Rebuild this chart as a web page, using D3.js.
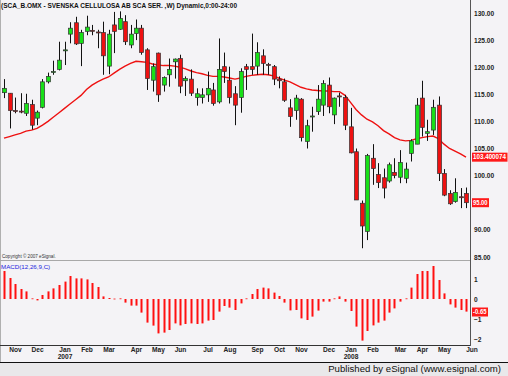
<!DOCTYPE html>
<html><head><meta charset="utf-8">
<script src="https://cdn.jsdelivr.net/npm/d3@7"></script>
<style>html,body{margin:0;padding:0;background:#f4f3f6;}svg{display:block;}</style>
</head><body>
<svg id="c" width="508" height="376"></svg>
<script>
const openP  = [115.3,115.2,112.0,111.9,111.5,113.1,110.6,112.6,117.3,119.1,119.6,123.1,126.1,128.2,124.4,126.6,126.8,126.5,126.4,120.2,127.8,127.0,128.4,124.1,126.2,127.2,123.2,117.6,122.6,116.7,118.6,121.0,121.6,117.5,117.8,114.4,114.4,114.9,115.8,113.6,120.1,117.6,115.1,114.4,120.1,120.1,120.2,122.1,120.5,120.1,117.8,117.3,112.5,112.0,114.1,106.3,111.0,111.8,113.0,116.7,111.2,114.7,114.4,109.0,104.4,94.9,89.7,103.2,100.2,99.6,99.0,100.6,99.7,99.5,104.1,105.8,114.3,107.8,108.4,113.0,100.4,96.7,95.2,96.1,96.7];
const highP  = [117.8,115.2,114.4,115.2,115.1,114.0,112.0,117.8,119.0,121.2,124.7,124.7,128.3,129.3,126.9,129.5,127.8,126.9,128.4,126.9,130.2,130.3,129.6,127.8,128.8,127.8,123.5,120.7,122.7,118.3,121.6,121.6,122.3,118.3,119.6,116.1,116.1,119.2,117.1,125.3,122.7,120.1,116.5,119.8,120.6,126.2,124.6,123.3,120.8,120.4,118.3,117.9,114.1,114.9,114.3,110.3,112.7,116.7,117.6,118.1,114.4,115.3,114.9,112.5,105.0,95.4,104.0,105.8,102.3,101.3,102.4,103.2,104.7,102.4,106.7,114.3,117.5,110.3,114.0,114.6,101.2,97.3,99.5,97.7,97.8];
const lowP   = [114.3,108.7,111.5,111.5,111.0,108.5,109.3,112.4,117.0,118.6,119.4,120.4,124.4,124.1,120.2,125.9,125.9,123.5,118.6,118.7,122.6,126.9,124.1,123.5,125.0,122.3,115.8,115.5,113.6,115.5,116.4,117.9,115.2,114.7,114.7,112.9,113.3,113.6,112.9,113.3,117.1,113.3,109.3,111.6,115.8,118.6,118.6,118.6,118.6,116.7,116.1,113.6,109.0,110.3,106.3,105.0,108.1,111.2,111.0,111.5,109.5,112.7,108.4,104.1,95.5,86.6,88.1,98.3,97.7,95.8,98.7,99.5,98.6,98.6,102.6,105.8,107.2,106.4,107.5,99.0,96.2,94.6,95.0,94.0,94.0];
const closeP = [116.1,112.0,111.9,111.8,113.3,109.3,111.7,117.3,118.3,119.2,121.3,123.2,127.2,124.3,126.4,127.4,126.7,126.4,122.1,126.1,126.6,129.0,124.7,126.1,127.2,122.7,117.9,120.1,114.9,118.1,119.6,121.5,116.5,117.9,115.2,115.1,114.9,116.1,113.3,119.6,119.2,114.4,113.0,119.2,119.6,119.6,122.7,120.7,120.4,117.8,117.5,113.9,110.9,114.3,107.0,109.2,111.0,114.1,117.0,112.7,114.3,114.6,109.3,104.2,95.5,90.7,103.7,101.3,98.7,97.7,102.0,100.0,102.4,101.2,106.4,113.0,108.9,108.1,112.6,100.4,96.4,94.8,96.9,96.0,95.0];
const maP    = [106.9,107.2,107.5,107.8,108.2,108.4,108.7,109.3,110.0,110.8,111.6,112.4,113.2,114.0,114.8,115.9,116.7,117.3,117.8,118.2,118.9,119.6,120.2,120.7,121.1,121.0,120.9,120.6,120.4,120.3,120.3,120.2,120.0,119.7,119.3,119.0,118.8,118.5,118.3,118.3,118.2,118.0,117.8,118.0,118.3,118.5,118.6,118.7,118.6,118.4,118.0,117.6,117.3,116.8,116.3,116.0,115.8,115.7,115.6,115.6,115.5,115.5,114.8,113.5,112.2,111.2,110.4,109.9,109.2,108.3,107.7,107.0,106.6,106.4,106.5,106.8,107.0,107.2,107.3,106.8,105.8,105.0,104.5,104.0,103.4];
const macdH  = [1.40,1.05,0.75,0.50,0.38,0.03,-0.07,0.20,0.38,0.53,0.70,0.87,1.15,1.03,1.03,0.98,0.80,0.60,0.13,0.05,0.02,0.03,-0.18,-0.33,-0.33,-0.68,-1.18,-1.33,-1.72,-1.68,-1.55,-1.22,-1.32,-1.25,-1.22,-1.25,-1.22,-1.08,-1.05,-0.63,-0.35,-0.43,-0.55,-0.22,0.03,0.25,0.50,0.57,0.53,0.32,0.15,-0.18,-0.57,-0.55,-0.97,-1.05,-0.88,-0.58,-0.13,-0.13,0.03,0.13,-0.13,-0.60,-1.38,-2.08,-1.60,-1.32,-1.18,-1.08,-0.68,-0.47,-0.13,0.03,0.57,1.25,1.40,1.40,1.65,0.95,0.28,-0.27,-0.43,-0.55,-0.63];
const monthLabels = ["Nov","Dec","Jan","Feb","Mar","Apr","May","Jun","Jul","Aug","Sep","Oct","Nov","Dec","Jan","Feb","Mar","Apr","May","Jun"];
const monthIdx    = [2,6,11,15,19,24,28,32,37,41,46,50,54,59,63,67,72,76,80,85];
const yearLabels  = ["2007","2008"];
const yearIdx     = [11,63];
const priceTicks  = [85,90,100,105,110,115,120,125,130];
const macdTicks   = [-2,-1,0,1];
const titleText = "(SCA_B.OMX - SVENSKA CELLULOSA AB SCA SER. ,W) Dynamic,0:00-24:00";
const lastMA = "103.400074", lastClose = "95.00", lastMacd = "-0.65";

const svg = d3.select("#c");
const W = 508, H = 376;
const GREEN = "#18e018", RED = "#ee1111";
const FONT = "Liberation Sans, Arial, sans-serif";
svg.append("rect").attr("width", W).attr("height", H).attr("fill", "#f4f3f6");

const x = d3.scaleLinear().domain([0, 84]).range([4, 466]);
const y = d3.scaleLinear().domain([85, 130]).range([256.9, 13]);
const ym = d3.scaleLinear().domain([-2, 1]).range([339, 279]);

// frame lines
svg.append("line").attr("x1",0.5).attr("x2",0.5).attr("y1",0).attr("y2",362).attr("stroke","#b0b0b0");
svg.append("line").attr("x1",0).attr("x2",471).attr("y1",260.5).attr("y2",260.5).attr("stroke","#a8a8a8");
svg.append("line").attr("x1",0).attr("x2",471).attr("y1",345.5).attr("y2",345.5).attr("stroke","#333");
svg.append("line").attr("x1",470.5).attr("x2",470.5).attr("y1",0).attr("y2",346).attr("stroke","#555");
svg.append("rect").attr("x",0).attr("y",362).attr("width",W).attr("height",H-362).attr("fill","#e9e8ea");
svg.append("line").attr("x1",0).attr("x2",W).attr("y1",362.5).attr("y2",362.5).attr("stroke","#111");

// title
svg.append("text").attr("x",1).attr("y",7.5).attr("font-family",FONT)
  .attr("font-size","6.6px").attr("font-weight","bold").attr("fill","#111")
  .attr("textLength",236).attr("lengthAdjust","spacingAndGlyphs").text(titleText);

// MA line
const idx = d3.range(closeP.length);
svg.append("path").datum(idx).attr("fill","none").attr("stroke",RED).attr("stroke-width",1.4)
  .attr("d", d3.line().x(i => x(i)).y(i => y(maP[i])));

// candles
const cg = svg.append("g");
idx.forEach(i => {
  const cx = Math.round(x(i)) + 0.5;
  cg.append("line").attr("x1",cx).attr("x2",cx).attr("y1",y(highP[i])).attr("y2",y(lowP[i]))
    .attr("stroke","#111").attr("stroke-width",1);
  const up = closeP[i] >= openP[i];
  const top = y(Math.max(openP[i], closeP[i])), bot = y(Math.min(openP[i], closeP[i]));
  const h = Math.max(1, bot - top);
  cg.append("rect").attr("x",cx-2).attr("y",top).attr("width",4).attr("height",h)
    .attr("fill", up ? GREEN : RED).attr("stroke","#333").attr("stroke-width",0.7);
});

// copyright
svg.append("text").attr("x",2).attr("y",258).attr("font-family",FONT)
  .attr("font-size","4.6px").attr("fill","#333").text("Copyright © 2007 eSignal.");

// price axis
const pAxis = svg.append("g").attr("transform","translate(473,0)")
  .call(d3.axisRight(y).tickValues(priceTicks).tickSize(0).tickPadding(1).tickFormat(d3.format(".2f")));
pAxis.select(".domain").remove();
pAxis.selectAll("text").attr("font-family",FONT).attr("font-size","6.6px")
  .attr("font-weight","bold").attr("fill","#222");

function redTag(val, label, w) {
  const g = svg.append("g");
  g.append("rect").attr("x",472).attr("y",val-4.5).attr("width",w).attr("height",9).attr("fill","#ff1a1a");
  g.append("text").attr("x",473).attr("y",val).attr("dy","0.35em").attr("font-family",FONT)
    .attr("font-size","6.4px").attr("font-weight","bold").attr("fill","#fff")
    .attr("textLength", w - 2.5).attr("lengthAdjust","spacingAndGlyphs").text(label);
}
redTag(y(+lastMA), lastMA, 35.5);
redTag(y(+lastClose), lastClose, 17);

// MACD panel
svg.append("text").attr("x",1).attr("y",268.5).attr("font-family",FONT)
  .attr("font-size","6.2px").attr("fill","#2222dd").text("MACD(12,26,9,C)");
svg.append("g").selectAll("rect").data(idx).join("rect")
  .attr("x", i => Math.round(x(i)) - 0.5).attr("width", 2)
  .attr("y", i => Math.min(ym(0), ym(macdH[i])))
  .attr("height", i => Math.max(0.8, Math.abs(ym(macdH[i]) - ym(0))))
  .attr("fill", "#ff1010");
const mAxis = svg.append("g").attr("transform","translate(473,0)")
  .call(d3.axisRight(ym).tickValues(macdTicks).tickSize(0).tickPadding(1).tickFormat(d3.format("d")));
mAxis.select(".domain").remove();
mAxis.selectAll("text").attr("font-family",FONT).attr("font-size","6.6px")
  .attr("font-weight","bold").attr("fill","#222");
redTag(ym(+lastMacd), lastMacd, 16);

// x axis
const xAxis = svg.append("g").attr("transform","translate(0,346)")
  .call(d3.axisBottom(x).tickValues(monthIdx).tickSize(0).tickPadding(1.5).tickFormat((d,i) => monthLabels[i]));
xAxis.select(".domain").remove();
xAxis.selectAll("text").attr("font-family",FONT).attr("font-size","6.6px")
  .attr("font-weight","bold").attr("fill","#222");
const yrAxis = svg.append("g").attr("transform","translate(0,354)")
  .call(d3.axisBottom(x).tickValues(yearIdx).tickSize(0).tickPadding(0).tickFormat((d,i) => yearLabels[i]));
yrAxis.select(".domain").remove();
yrAxis.selectAll("text").attr("font-family",FONT).attr("font-size","6.6px")
  .attr("font-weight","bold").attr("fill","#222");

// footer
svg.append("text").attr("x",501).attr("y",371.5).attr("text-anchor","end")
  .attr("font-family",FONT).attr("font-size","9.6px").attr("fill","#111")
  .text("Published by eSignal (www.esignal.com)");
</script>
</body></html>
